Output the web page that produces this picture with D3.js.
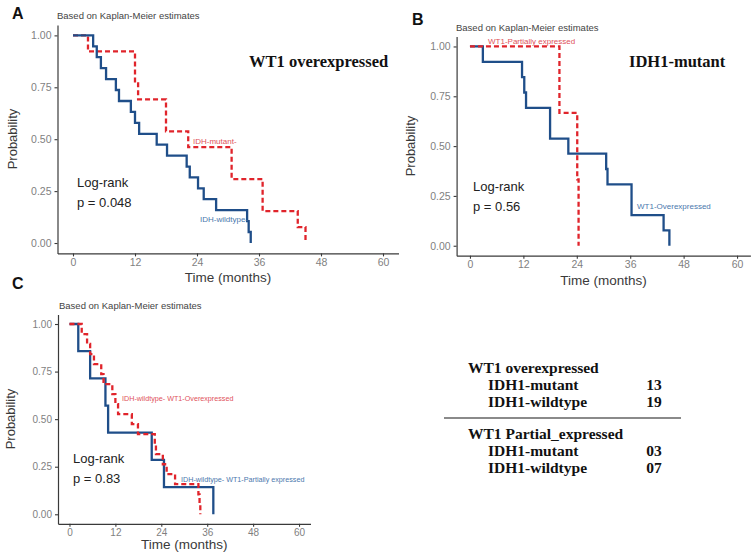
<!DOCTYPE html>
<html><head><meta charset="utf-8">
<script src="https://cdn.jsdelivr.net/npm/d3@7/dist/d3.min.js"></script>
<style>body{margin:0;background:#fff}svg{display:block}</style>
</head><body>
<svg id="chart" width="753" height="554"></svg>
<script>
// ---------- data ----------
const xTicks = [0, 12, 24, 36, 48, 60];
const yTicks = [0, 0.25, 0.5, 0.75, 1];
const yTickLabels = ["0.00", "0.25", "0.50", "0.75", "1.00"];

// Panel A: WT1 overexpressed
const aWildTimes = [3.9, 4.6, 5.4, 6.4, 8.3, 8.9, 11.2, 12.0, 12.8, 16.2, 18.2, 22.0, 22.6, 24.2, 25.3, 27.7, 33.7, 34.0, 34.4];
const aWildSurv  = [0.947, 0.895, 0.842, 0.789, 0.737, 0.684, 0.632, 0.579, 0.526, 0.474, 0.421, 0.368, 0.316, 0.263, 0.211, 0.158, 0.105, 0.053, 0];
const aMutTimes  = [2.9, 12.0, 12.6, 18.0, 22.3, 30.7, 36.7, 43.5, 45.0];
const aMutSurv   = [0.923, 0.769, 0.692, 0.538, 0.462, 0.308, 0.154, 0.077, 0];

// Panel B: IDH1-mutant
const bOverTimes = [2.9, 11.7, 12.2, 12.6, 18.0, 22.1, 30.6, 30.9, 36.3, 43.5, 44.8];
const bOverSurv  = [0.923, 0.846, 0.769, 0.692, 0.538, 0.462, 0.385, 0.308, 0.154, 0.077, 0];
const bPartTimes = [20.1, 24.1, 24.4];
const bPartSurv  = [0.667, 0.333, 0];

// Panel C: IDH-wildtype
const cPartTimes = [2.3, 5.4, 9.4, 10.1, 21.5, 24.7, 37.6];
const cPartSurv  = [0.857, 0.714, 0.571, 0.429, 0.286, 0.143, 0];
const cOverTimes = [3.2, 4.6, 5.4, 6.4, 8.3, 8.9, 11.2, 12.0, 12.7, 16.3, 17.9, 22.3, 22.6, 24.4, 25.4, 27.6, 33.7, 34.0, 34.2];
const cOverSurv  = [0.947, 0.895, 0.842, 0.789, 0.737, 0.684, 0.632, 0.579, 0.526, 0.474, 0.421, 0.368, 0.316, 0.263, 0.211, 0.158, 0.105, 0.053, 0];

// Table
const tableGroups = ["WT1 overexpressed", "WT1 Partial_expressed"];
const tableRows = [["IDH1-mutant", "IDH1-wildtype"], ["IDH1-mutant", "IDH1-wildtype"]];
const tableCounts = [["13", "19"], ["03", "07"]];

// ---------- drawing ----------
const BLUE = "#1f4e89", RED = "#e0242b";
const BLUE_TXT = "#4a78ad", RED_TXT = "#e0525a";
const SANS = "'Liberation Sans', Arial, sans-serif";
const SERIF = "'Liberation Serif', 'Times New Roman', serif";
const svg = d3.select("#chart");

function panel(cfg) {
  const g = svg.append("g");
  const x = d3.scaleLinear().domain([-3, 63]).range([cfg.x0, cfg.x1]);
  const y = d3.scaleLinear().domain([-0.05, 1.05]).range([cfg.y0, cfg.y1]);

  const xa = g.append("g").attr("transform", `translate(0,${cfg.y0})`)
    .call(d3.axisBottom(x).tickValues(xTicks).tickSize(3).tickSizeOuter(0).tickPadding(2));
  const ya = g.append("g").attr("transform", `translate(${cfg.x0},0)`)
    .call(d3.axisLeft(y).tickValues(yTicks).tickFormat((d, i) => yTickLabels[i]).tickSize(3).tickSizeOuter(0).tickPadding(3));
  [xa, ya].forEach(a => {
    a.select(".domain").attr("stroke", "#3a3a3a").attr("stroke-width", 1.2);
    a.selectAll(".tick line").attr("stroke", "#3a3a3a").attr("stroke-width", 1.1);
    a.selectAll(".tick text").attr("fill", "#7f7f7f").style("font-family", SANS).style("font-size", cfg.tickFs + "px");
  });

  const line = d3.line().x(d => x(d[0])).y(d => y(d[1])).curve(d3.curveStepAfter);
  cfg.series.forEach(s => {
    const pts = [[0, 1]].concat(s.times.map((t, i) => [t, s.surv[i]]));
    g.append("path").attr("d", line(pts)).attr("fill", "none")
      .attr("stroke", s.color).attr("stroke-width", 2.3)
      .attr("stroke-dasharray", s.dash || null);
  });

  // labels
  g.append("text").attr("x", cfg.letter[0]).attr("y", cfg.letter[1]).text(cfg.letterText)
    .style("font-family", SANS).style("font-weight", "bold").style("font-size", "16px").attr("fill", "#111");
  g.append("text").attr("x", cfg.sub[0]).attr("y", cfg.sub[1]).text("Based on Kaplan-Meier estimates")
    .style("font-family", SANS).style("font-size", "9.5px").attr("fill", "#444");
  g.append("text").attr("transform", `translate(${cfg.ylab[0]},${cfg.ylab[1]}) rotate(-90)`)
    .attr("text-anchor", "middle").text("Probability")
    .style("font-family", SANS).style("font-size", "13px").attr("fill", "#3a3a3a");
  g.append("text").attr("x", (cfg.x0 + cfg.x1) / 2).attr("y", cfg.xlabY).attr("text-anchor", "middle")
    .text("Time (months)").style("font-family", SANS).style("font-size", "13.5px").attr("fill", "#3a3a3a");
  g.append("text").attr("x", cfg.lr[0]).attr("y", cfg.lr[1]).text("Log-rank")
    .style("font-family", SANS).style("font-size", "13px").attr("fill", "#222");
  g.append("text").attr("x", cfg.lr[0]).attr("y", cfg.lr[1] + cfg.lrGap).text(cfg.p)
    .style("font-family", SANS).style("font-size", "13px").attr("fill", "#222");
  if (cfg.title) {
    g.append("text").attr("x", cfg.title[0]).attr("y", cfg.title[1]).text(cfg.title[2])
      .style("font-family", SERIF).style("font-weight", "bold").style("font-size", "16.5px").attr("fill", "#111");
  }
  cfg.tags.forEach(t => {
    g.append("text").attr("x", t[0]).attr("y", t[1]).text(t[2]).attr("fill", t[3])
      .style("font-family", SANS).style("font-size", t[4] + "px");
  });
}

panel({
  x0: 57.5, x1: 398.5, y0: 253.4, y1: 25, tickFs: 10.5,
  series: [
    { times: aMutTimes, surv: aMutSurv, color: RED, dash: "5,3" },
    { times: aWildTimes, surv: aWildSurv, color: BLUE }
  ],
  letter: [12, 19], letterText: "A", sub: [57, 18.5], ylab: [17, 139], xlabY: 282,
  lr: [77, 187], lrGap: 20, p: "p = 0.048",
  title: [249, 67, "WT1 overexpressed"],
  tags: [[193, 144, "IDH-mutant-", RED_TXT, 8], [200, 222, "IDH-wildtype-", BLUE_TXT, 8]]
});

panel({
  x0: 456.6, x1: 750.4, y0: 255.7, y1: 36.5, tickFs: 10.5,
  series: [
    { times: bOverTimes, surv: bOverSurv, color: BLUE },
    { times: bPartTimes, surv: bPartSurv, color: RED, dash: "5,3" }
  ],
  letter: [412, 25], letterText: "B", sub: [456, 31], ylab: [415, 146], xlabY: 284.5,
  lr: [473, 191], lrGap: 20, p: "p = 0.56",
  title: [629, 67, "IDH1-mutant"],
  tags: [[488, 44, "WT1-Partially expressed", RED_TXT, 8], [637, 209, "WT1-Overexpressed", BLUE_TXT, 8]]
});

panel({
  x0: 58, x1: 310.5, y0: 523.8, y1: 314.5, tickFs: 10,
  series: [
    { times: cPartTimes, surv: cPartSurv, color: BLUE },
    { times: cOverTimes, surv: cOverSurv, color: RED, dash: "5,3" }
  ],
  letter: [12, 289], letterText: "C", sub: [59, 308.5], ylab: [15, 419], xlabY: 549,
  lr: [73, 463], lrGap: 20, p: "p = 0.83",
  title: null,
  tags: [[122, 400.5, "IDH-wildtype- WT1-Overexpressed", RED_TXT, 7.2], [181, 482, "IDH-wildtype- WT1-Partially expressed", BLUE_TXT, 7.2]]
});

// ---------- table ----------
const tg = svg.append("g").style("font-family", SERIF).style("font-weight", "bold").attr("fill", "#111");
const groupTop = [373, 439];
tableGroups.forEach((grp, gi) => {
  tg.append("text").attr("x", 468).attr("y", groupTop[gi]).text(grp).style("font-size", "15.5px");
  tableRows[gi].forEach((r, ri) => {
    const yy = groupTop[gi] + 17 * (ri + 1);
    tg.append("text").attr("x", 488).attr("y", yy).text(r).style("font-size", "15.5px");
    tg.append("text").attr("x", 654).attr("y", yy).attr("text-anchor", "middle").text(tableCounts[gi][ri]).style("font-size", "15.5px");
  });
});
svg.append("line").attr("x1", 444).attr("x2", 681).attr("y1", 418).attr("y2", 418)
  .attr("stroke", "#8a8a8a").attr("stroke-width", 2);
</script>
</body></html>
